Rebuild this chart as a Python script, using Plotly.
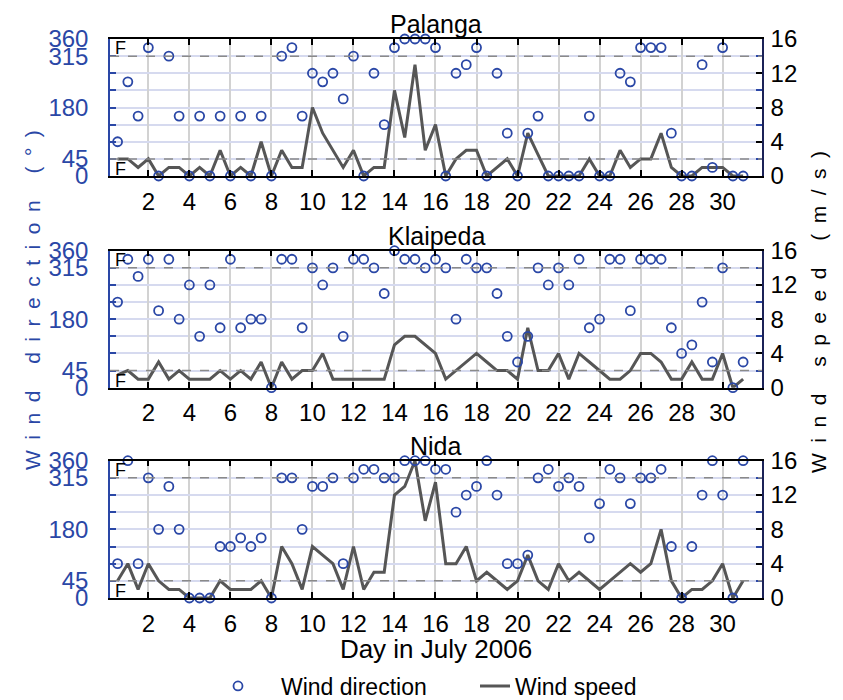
import plotly.graph_objects as go

days = [0.5, 1, 1.5, 2, 2.5, 3, 3.5, 4, 4.5, 5, 5.5, 6, 6.5, 7, 7.5, 8, 8.5, 9, 9.5, 10,
        10.5, 11, 11.5, 12, 12.5, 13, 13.5, 14, 14.5, 15, 15.5, 16, 16.5, 17, 17.5, 18, 18.5, 19, 19.5, 20,
        20.5, 21, 21.5, 22, 22.5, 23, 23.5, 24, 24.5, 25, 25.5, 26, 26.5, 27, 27.5, 28, 28.5, 29, 29.5, 30,
        30.5, 31]

stations = ["Palanga", "Klaipeda", "Nida"]

palanga_dir = [90, 247.5, 157.5, 337.5, 0, 315, 157.5, 0, 157.5, 0, 157.5, 0, 157.5, 0, 157.5, 0, 315, 337.5, 157.5, 270,
               247.5, 270, 202.5, 315, 0, 270, 135, 337.5, 360, 360, 360, 337.5, 0, 270, 292.5, 337.5, 0, 270, 112.5, 0,
               112.5, 157.5, 0, 0, 0, 0, 157.5, 0, 0, 270, 247.5, 337.5, 337.5, 337.5, 112.5, 0, 0, 292.5, 22.5, 337.5,
               0, 0]
palanga_spd = [2, 2, 1, 2, 0, 1, 1, 0, 1, 0, 3, 0, 1, 0, 4, 0, 3, 1, 1, 8,
               5, 3, 1, 3, 0, 1, 1, 10, 4.5, 13, 3, 6, 0, 2, 3, 3, 0, 1, 2, 0,
               5, 2.5, 0, 0, 0, 0, 2, 0, 0, 3, 1, 2, 2, 5, 1, 0, 0, 1, 1, 1,
               0, 0]

klaipeda_dir = [225, 337.5, 292.5, 337.5, 202.5, 337.5, 180, 270, 135, 270, 157.5, 337.5, 157.5, 180, 180, 0, 337.5, 337.5, 157.5, 315,
                270, 315, 135, 337.5, 337.5, 315, 247.5, 360, 337.5, 337.5, 315, 337.5, 315, 180, 337.5, 315, 315, 247.5, 135, 67.5,
                135, 315, 270, 315, 270, 337.5, 157.5, 180, 337.5, 337.5, 202.5, 337.5, 337.5, 337.5, 157.5, 90, 112.5, 225, 67.5, 315,
                0, 67.5]
klaipeda_spd = [1.5, 2, 1, 1, 3, 1, 2, 1, 1, 1, 2, 1, 2, 1, 3, 0, 3, 1, 2, 2,
                4, 1, 1, 1, 1, 1, 1, 5, 6, 6, 5, 4, 1, 2, 3, 4, 3, 2, 2, 1,
                7, 2, 2, 4, 1, 4, 3, 2, 1, 1, 2, 4, 4, 3, 1, 1, 3, 1, 1, 4,
                0, 1]

nida_dir = [90, 360, 90, 315, 180, 292.5, 180, 0, 0, 0, 135, 135, 157.5, 135, 157.5, 0, 315, 315, 180, 292.5,
            292.5, 315, 90, 315, 337.5, 337.5, 315, 315, 360, 360, 360, 337.5, 337.5, 225, 270, 292.5, 360, 270, 90, 90,
            112.5, 315, 337.5, 292.5, 315, 292.5, 157.5, 247.5, 337.5, 315, 247.5, 315, 315, 337.5, 135, 0, 135, 270, 360, 270,
            0, 360]
nida_spd = [2, 4, 1, 4, 2, 1, 1, 0, 0, 0, 2, 1, 1, 1, 2, 0, 6, 4, 1, 6,
            5, 4, 1, 6, 1, 3, 3, 12, 13, 16, 9, 13.5, 4, 4, 6, 2, 3, 2, 1, 2,
            5, 2, 1, 4, 2, 3, 2, 1, 2, 3, 4, 3, 4, 8, 2, 0, 1, 1, 2, 4,
            0, 2]

dir_ticks = [0, 45, 180, 315, 360]
spd_ticks = [0, 4, 8, 12, 16]
day_ticks = [2, 4, 6, 8, 10, 12, 14, 16, 18, 20, 22, 24, 26, 28, 30]

directions = [palanga_dir, klaipeda_dir, nida_dir]
speeds = [palanga_spd, klaipeda_spd, nida_spd]

BLUE = "#2a47a6"
NAVY = "#1b2257"
LAV = "#d6daef"
GRIDX = "#d2d2d2"
LINEC = "#565656"
FONT = "Liberation Sans, Arial, sans-serif"
TICK = 24

# page has an 8px body margin: work in window pixels, convert to figure pixels
OFF = 8
W, H = 843 - OFF, 700 - OFF
PL, PR, PT, PB = 110, 762, 39, 598          # plot-area edges in window pixels
ML, MR, MT, MB = PL - OFF, W - (PR - OFF), PT - OFF, H - (PB - OFF)
pw = W - ML - MR
ph = H - MT - MB
panel_px = [(39, 176), (250.7, 387.7), (460.7, 597.7)]
domains = [[(PB - b) / ph, (PB - t) / ph] for t, b in panel_px]
domains[0][1] = 1.0
domains[2][0] = 0.0


def px_x(xw):
    return (xw - PL) / pw


def px_y(yw):
    return (PB - yw) / ph


fig = go.Figure()
layout = dict(
    width=W, height=H,
    margin=dict(l=ML, r=MR, t=MT, b=MB, autoexpand=False),
    paper_bgcolor="white", plot_bgcolor="white",
    font=dict(family=FONT, size=22, color="black"),
    showlegend=True,
    legend=dict(orientation="h", xref="container", yref="container",
                x=(218 - OFF) / W, xanchor="left", y=1 - (686 - OFF) / H, yanchor="middle",
                font=dict(size=23), entrywidth=212, bgcolor="rgba(0,0,0,0)"),
)

annotations = []
shapes = []
xr = [0.13, 31.92]

for i in range(3):
    n = i + 1
    xname = "x" if n == 1 else f"x{n}"
    sy = 2 * n - 1
    dy = 2 * n
    syname = "y" if sy == 1 else f"y{sy}"
    dyname = f"y{dy}"

    xa = dict(
        domain=[0, 1], anchor=syname, range=xr, automargin=False,
        tickmode="array", tickvals=day_ticks, ticks="inside", ticklen=6, tickwidth=1.5,
        tickcolor="black", showline=True, linecolor="black", linewidth=1.5, mirror="ticks",
        showgrid=True, gridcolor=GRIDX, gridwidth=1.5, zeroline=False,
        tickfont=dict(size=TICK, color="black"), ticklabelstandoff=3,
    )
    if n == 3:
        xa["title"] = dict(text="Day in July 2006", font=dict(size=26), standoff=4)
    layout["xaxis" if n == 1 else f"xaxis{n}"] = xa
    layout["yaxis" if sy == 1 else f"yaxis{sy}"] = dict(
        domain=domains[i], anchor=xname, side="right", range=[0, 16], automargin=False,
        tickmode="array", tickvals=spd_ticks, ticks="inside", ticklen=6, tickwidth=1.5,
        tickcolor="black", showline=True, linecolor=NAVY, linewidth=1.5,
        showgrid=True, gridcolor=LAV, gridwidth=1.5, zeroline=False,
        tickfont=dict(size=TICK, color="black"), ticklabelstandoff=2,
        minor=dict(dtick=2, tick0=0, ticks="inside", ticklen=6, tickwidth=1.5, tickcolor=BLUE,
                   showgrid=True, gridcolor=LAV, gridwidth=1.5),
    )
    layout[f"yaxis{dy}"] = dict(
        anchor=xname, overlaying=syname, side="left", range=[0, 360], automargin=False,
        tickmode="array", tickvals=dir_ticks, ticks="inside", ticklen=6, tickwidth=1.5,
        tickcolor=BLUE, showline=True, linecolor=BLUE, linewidth=1.5,
        showgrid=False, zeroline=False,
        tickfont=dict(size=TICK, color=BLUE), ticklabelstandoff=15,
        minor=dict(dtick=45, tick0=0, ticks="inside", ticklen=6, tickwidth=1.5, tickcolor=BLUE, showgrid=False),
    )

    for yv in (2, 14):
        shapes.append(dict(type="line", xref=f"{xname} domain", yref=syname, x0=0, x1=1, y0=yv, y1=yv,
                           line=dict(color="#8a8a8a", width=1.5, dash="dash"), layer="above"))

    fig.add_trace(go.Scatter(
        x=days, y=speeds[i], mode="lines", name="Wind speed",
        line=dict(color=LINEC, width=3), xaxis=xname, yaxis=syname,
        showlegend=(i == 0), legendrank=2, cliponaxis=False,
    ))
    fig.add_trace(go.Scatter(
        x=days, y=directions[i], mode="markers", name="\u2002\u2002Wind direction",
        marker=dict(symbol="circle-open", size=9, color=BLUE, line=dict(width=1.8, color=BLUE)),
        xaxis=xname, yaxis=dyname, showlegend=(i == 0), legendrank=1, cliponaxis=False,
    ))

    annotations.append(dict(text="F", xref=f"{xname} domain", yref=dyname, x=0.004, y=315,
                            xanchor="left", yanchor="bottom", yshift=-4, showarrow=False,
                            font=dict(size=18, color="black")))
    annotations.append(dict(text="F", xref=f"{xname} domain", yref=dyname, x=0.004, y=45,
                            xanchor="left", yanchor="top", yshift=2, showarrow=False,
                            font=dict(size=18, color="black")))
    annotations.append(dict(text=stations[i], xref="paper", yref="paper", x=0.5, y=domains[i][1],
                            xanchor="center", yanchor="bottom", yshift=-1, showarrow=False,
                            font=dict(size=25, color="black")))


def spaced(s):
    return "\u2002".join("\u00a0" if c == " " else c for c in s)


annotations.append(dict(text=spaced("Wind direction (°)"), xref="paper", yref="paper",
                        x=px_x(32), y=px_y(300), xanchor="center", yanchor="middle",
                        textangle=-90, showarrow=False, font=dict(size=21, color=BLUE)))
annotations.append(dict(text=spaced("Wind speed (m/s)"), xref="paper", yref="paper",
                        x=px_x(818), y=px_y(312), xanchor="center", yanchor="middle",
                        textangle=-90, showarrow=False, font=dict(size=21, color="black")))

layout["annotations"] = annotations
layout["shapes"] = shapes
fig.update_layout(**layout)
fig.write_html("out.html")
